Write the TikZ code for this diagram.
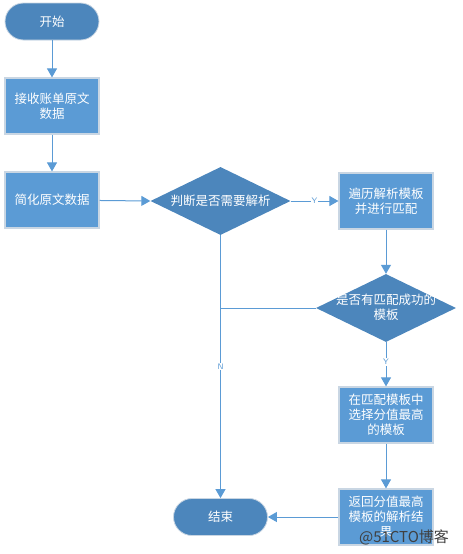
\documentclass[tikz,border=0pt]{standalone}
\usepackage{fontspec}
\newfontfamily\cjk{Noto Sans CJK SC}
\usetikzlibrary{shapes.geometric,arrows.meta}
\definecolor{termfill}{HTML}{4C86BC}
\definecolor{boxfill}{HTML}{5B9BD5}
\definecolor{linec}{HTML}{5B9BD5}
\definecolor{edgec}{HTML}{C9D6E3}
\tikzset{
  txt/.style={text=white,font=\cjk\fontsize{12.5}{15}\selectfont,align=center,inner sep=0pt},
  term/.style={txt,fill=termfill,draw=edgec,line width=0.8pt,rounded corners=18.5pt,minimum width=94pt,minimum height=37pt},
  stepbox/.style={txt,fill=boxfill,draw=edgec,line width=1.2pt,minimum width=94pt,minimum height=56pt},
  dia/.style={diamond,fill=termfill,draw=none,inner sep=0pt,minimum width=140pt,minimum height=68pt},
  conn/.style={draw=linec,line width=1pt,-{Triangle[length=9pt,width=10pt]}},
  plain/.style={draw=linec,line width=1pt},
  yn/.style={font=\sffamily\fontsize{8}{9}\selectfont,text=linec,fill=white,inner sep=1pt}
}
\begin{document}
\begin{tikzpicture}[x=1pt,y=-1pt]
\useasboundingbox (0,0) rectangle (463,554);
\node[term] (start) at (52,21.5) {开始};
\node[stepbox] (recv) at (52,106) {接收账单原文\\数据};
\node[stepbox] (simp) at (52,200) {简化原文数据};
\node[dia] (d1) at (220.5,201) {};
\node[txt] (d1t) at (d1) {判断是否需要解析};
\node[stepbox] (trav) at (386,201) {遍历解析模板\\并进行匹配};
\node[dia] (d2) at (386,308) {};
\node[txt] (d2t) at (386,307.5) {是否有匹配成功的\\模板};
\node[stepbox] (sel) at (386,415) {在匹配模板中\\选择分值最高\\的模板};
\node[stepbox] (ret) at (386,517) {返回分值最高\\模板的解析结\\果};
\node[term] (end) at (220.5,517) {结束};
\coordinate (j) at (220.5,308);

\draw[conn] (start) -- (recv);
\draw[conn] (recv) -- (simp);
\draw[conn] (simp) -- (d1.west);
\draw[conn] (d1.east) -- node[yn,pos=0.5]{Y} (trav);
\draw[conn] (trav) -- (d2.north);
\draw[conn] (d2.south) -- node[yn,pos=0.45]{Y} (sel);
\draw[conn] (sel) -- (ret);
\draw[conn] (ret) -- (end);
\draw[conn] (d1.south) -- node[yn,pos=0.5]{N} (end);
\draw[plain] (d2.west) -- (j);

\node[font=\cjk\fontsize{15}{16}\selectfont,text=black!75,inner sep=0pt] (wm) at (404,537) {@51CTO博客};
\end{tikzpicture}
\end{document}
